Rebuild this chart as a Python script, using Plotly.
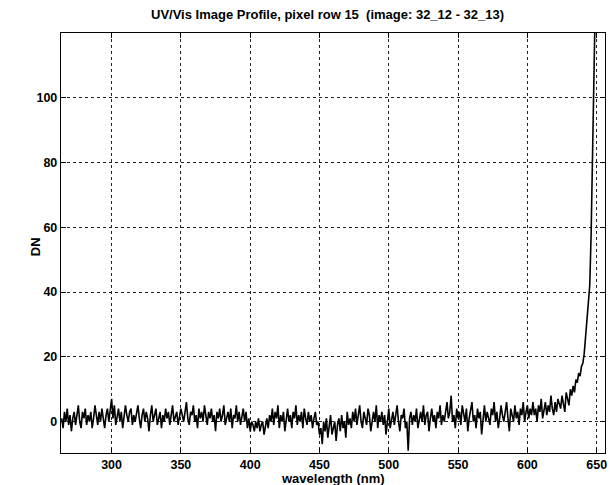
import plotly.graph_objects as go

# Wavelength grid (nm) and DN values read from the scanned profile
wl_start = 264
dn_values = [
    1, -2, 3, 0, 4, -1, 2, -3, 1, 3,        # 264-273
    -1, 2, 5, 0, -2, 3, 1, 4, -1, 2,        # 274-283
    0, 3, -2, 1, 5, 2, -1, 3, 0, 4,         # 284-293
    1, -2, 2, 4, 0, 3, 7, 1, 5, -1,         # 294-303
    2, 4, 0, 3, -2, 1, 5, 2, 0, 3,          # 304-313
    4, -1, 2, 0, 3, 5, 1, -2, 2, 4,         # 314-323
    0, 3, 1, -3, 2, 5, 0, 2, 4, -1,         # 324-333
    1, 3, -2, 2, 0, 4, 1, 3, -1, 2,         # 334-343
    5, 0, 2, 3, -1, 1, 4, 2, 0, 3,          # 344-353
    6, 1, -1, 3, 2, 5, 0, 2, -2, 4,         # 354-363
    1, 3, 0, 5, 2, -1, 3, 1, 4, 0,          # 364-373
    2, -3, 3, 1, 4, 0, 2, 5, -1, 1,         # 374-383
    3, 0, 4, -2, 2, 1, 5, 0, 3, -1,         # 384-393
    2, 4, 0, 3, -2, 1, -3, 0, -1, -3,       # 394-403
    0, -2, 1, -3, -1, 0, -4, -1, 1, -2,     # 404-413
    2, 0, 4, -1, 3, 1, 5, -2, 2, 0,         # 414-423
    3, -3, 1, 4, 0, 2, -2, 3, 1, 5,         # 424-433
    -1, 2, 0, 3, -2, 4, 1, -1, 3, 0,        # 434-443
    2, -2, 1, 3, -1, 0, -4, -2, -7, 0,      # 444-453
    -3, 1, -5, -1, 2, -4, -2, 0, -6, -1,    # 454-463
    1, -3, 2, -2, 0, -5, 3, -1, 1, -2,      # 464-473
    3, 0, 4, -1, 2, 5, 0, -2, 3, 1,         # 474-483
    -1, 4, 2, -3, 1, 3, 0, 5, -2, 2,        # 484-493
    0, 3, -1, 2, -4, 1, 4, -2, 0, 3,        # 494-503
    -1, 2, 5, 0, -3, 2, 1, 4, -2, 0,        # 504-513
    -9, 1, 3, -1, 2, 0, 4, -2, 1, 3,        # 514-523
    0, 5, -1, 2, 3, -3, 1, 4, 0, 2,         # 524-533
    -2, 3, 1, 5, -1, 2, 0, 4, 6, 1,         # 534-543
    3, 8, 0, 2, -2, 4, 1, 3, -1, 5,         # 544-553
    2, 0, 4, -3, 1, 3, 6, 0, 2, -2,         # 554-563
    4, 1, 3, -4, 2, 5, 0, 3, 1, -1,         # 564-573
    4, 2, 6, 0, 3, -2, 1, 5, 2, 0,          # 574-583
    3, 6, 1, -3, 4, 2, 0, 5, 1, 3,          # 584-593
    -1, 4, 2, 6, 0, 3, 5, 1, 4, 2,          # 594-603
    6, 2, 4, 0, 5, 3, 7, 1, 4, 6,           # 604-613
    2, 5, 3, 8, 4, 2, 6, 3, 7, 5,           # 614-623
    4, 8, 6, 3, 9, 7, 5, 10, 8, 11,         # 624-633
    9, 13, 12, 15, 14, 17, 18, 21, 26, 31,  # 634-643
    36, 42, 58, 78, 102, 130,               # 644-649
]
wavelengths = [wl_start + i for i in range(len(dn_values))]

x_ticks = [300, 350, 400, 450, 500, 550, 600, 650]
y_ticks = [0, 20, 40, 60, 80, 100]

title_text = "UV/Vis Image Profile, pixel row 15  (image: 32_12 - 32_13)"
x_title = "wavelength (nm)"
y_title = "DN"

FONT = "Liberation Sans, Arial, sans-serif"
TXT = dict(family=FONT, size=13, color="black", weight="bold")
TICK = dict(family=FONT, size=12.5, color="black", weight="bold")

fig = go.Figure()
fig.add_trace(go.Scatter(
    x=wavelengths, y=dn_values, mode="lines",
    line=dict(color="black", width=1.6),
    showlegend=False, hoverinfo="skip",
))

axis_common = dict(
    showline=True, linecolor="black", linewidth=1.4, mirror="ticks",
    ticks="inside", ticklen=5, tickcolor="black",
    showgrid=True, gridcolor="#222222", gridwidth=1, griddash="3px,3px",
    zeroline=False, automargin=False,
    tickfont=TICK,
)

fig.update_layout(
    width=614, height=485,
    paper_bgcolor="white", plot_bgcolor="white",
    margin=dict(l=61, r=9, t=33, b=32),
    xaxis=dict(range=[263.5, 656], tickvals=x_ticks, ticktext=[str(v) for v in x_ticks],
               ticklabelstandoff=0, **axis_common),
    yaxis=dict(range=[-9.7, 120], tickvals=y_ticks, ticktext=[str(v) for v in y_ticks],
               **axis_common),
    annotations=[
        dict(text=title_text, xref="paper", yref="paper", x=0.49, y=1, yshift=19,
             xanchor="center", yanchor="middle", showarrow=False, font=TXT),
        dict(text=x_title, xref="paper", yref="paper", x=0.5, y=0, yshift=-25,
             xanchor="center", yanchor="middle", showarrow=False,
             font=dict(family=FONT, size=13, color="black", weight="bold")),
        dict(text=y_title, xref="paper", yref="paper", x=0, xshift=-26, y=0.49,
             xanchor="center", yanchor="middle", textangle=-90, showarrow=False, font=TXT),
    ],
)

fig.write_html("out.html", config={"displayModeBar": False},
               post_script="document.body.style.margin='0';document.body.style.padding='0';")
